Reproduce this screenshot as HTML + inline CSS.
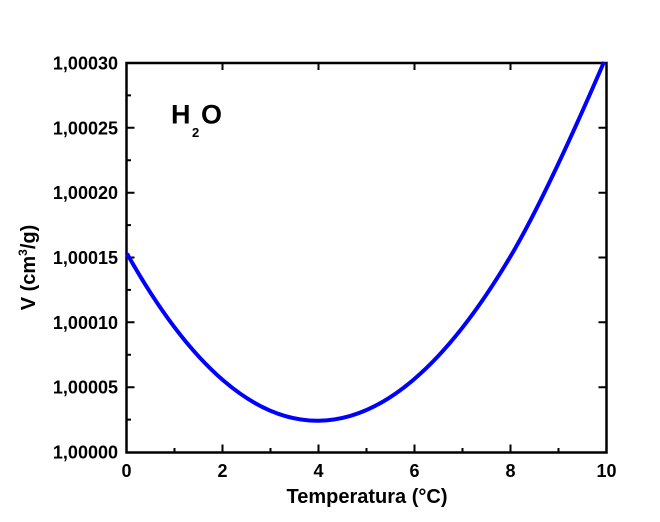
<!DOCTYPE html>
<html>
<head>
<meta charset="utf-8">
<style>
  html,body{margin:0;padding:0;background:#fff;}
  svg{display:block;}
  text{font-family:"Liberation Sans",Arial,sans-serif;font-weight:bold;fill:#000;}
</style>
</head>
<body>
<svg width="660" height="522" viewBox="0 0 660 522" xmlns="http://www.w3.org/2000/svg">
  <rect x="0" y="0" width="660" height="522" fill="#fff"/>

  <!-- ticks -->
  <g stroke="#000" stroke-width="2" fill="none">
    <!-- bottom major -->
    <path d="M126.5,452.5V444.5 M222.5,452.5V444.5 M318.5,452.5V444.5 M414.5,452.5V444.5 M510.5,452.5V444.5 M606.5,452.5V444.5"/>
    <!-- bottom minor -->
    <path d="M174.5,452.5V448 M270.5,452.5V448 M366.5,452.5V448 M462.5,452.5V448 M558.5,452.5V448"/>
    <!-- top major -->
    <path d="M222.5,63V70 M318.5,63V70 M414.5,63V70 M510.5,63V70"/>
    <!-- left major -->
    <path d="M126.5,127.8H134.5 M126.5,192.7H134.5 M126.5,257.5H134.5 M126.5,322.3H134.5 M126.5,387.2H134.5"/>
    <!-- left minor -->
    <path d="M126.5,95.4H131 M126.5,160.2H131 M126.5,225.1H131 M126.5,289.9H131 M126.5,354.8H131 M126.5,419.6H131"/>
    <!-- right major -->
    <path d="M606.5,127.8H598.5 M606.5,192.7H598.5 M606.5,257.5H598.5 M606.5,322.3H598.5 M606.5,387.2H598.5"/>
  </g>

  <!-- frame -->
  <rect x="126.5" y="63" width="480" height="389.5" fill="none" stroke="#000" stroke-width="2.5"/>

  <!-- curve -->
  <path d="M127,253.6 Q174.2,337.9 222.5,379.8 Q270.1,421.1 318.5,420.7 Q366.4,420.3 414.5,378.9 Q462.2,337.9 510.5,256.4 Q545.6,197.2 604,62"
        fill="none" stroke="#0000ff" stroke-width="4" stroke-linecap="butt" stroke-linejoin="round"/>

  <!-- y tick labels -->
  <g font-size="18" text-anchor="end">
    <text x="118" y="69.5">1,00030</text>
    <text x="118" y="134.3">1,00025</text>
    <text x="118" y="199.2">1,00020</text>
    <text x="118" y="264">1,00015</text>
    <text x="118" y="328.8">1,00010</text>
    <text x="118" y="393.7">1,00005</text>
    <text x="118" y="458.5">1,00000</text>
  </g>

  <!-- x tick labels -->
  <g font-size="18" text-anchor="middle">
    <text x="126.5" y="477">0</text>
    <text x="222.5" y="477">2</text>
    <text x="318.5" y="477">4</text>
    <text x="414.5" y="477">6</text>
    <text x="510.5" y="477">8</text>
    <text x="606.5" y="477">10</text>
  </g>

  <!-- axis titles -->
  <text x="367" y="503" font-size="20" text-anchor="middle">Temperatura (°C)</text>
  <text transform="translate(35,267.5) rotate(-90)" font-size="20" text-anchor="middle">V (cm<tspan font-size="12" dy="-8">3</tspan><tspan dy="8">/g)</tspan></text>

  <!-- H2O label -->
  <text x="171" y="123.5" font-size="27">H</text>
  <text x="192" y="137" font-size="13">2</text>
  <text x="201" y="123.5" font-size="27">O</text>
</svg>
</body>
</html>
